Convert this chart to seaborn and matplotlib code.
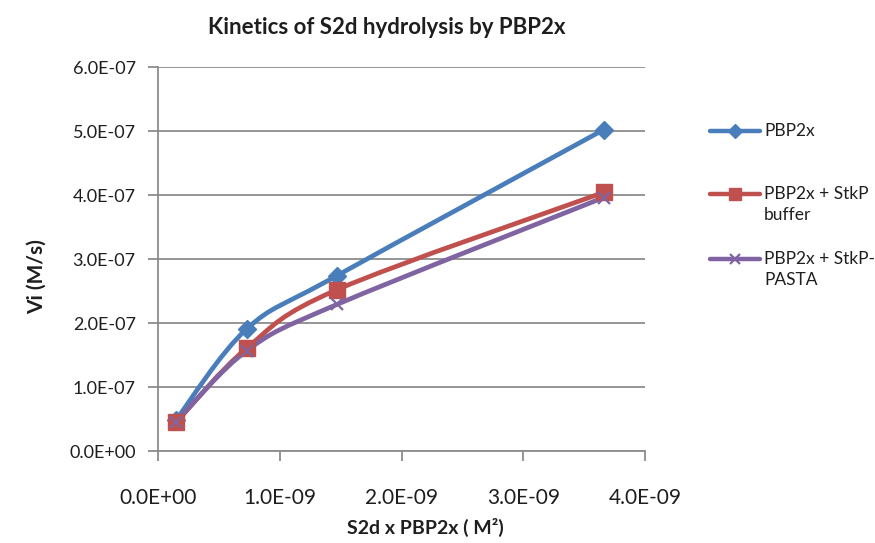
import numpy as np
import pandas as pd
import seaborn as sns
import matplotlib
matplotlib.use("Agg")
import matplotlib.pyplot as plt
from matplotlib.path import Path
from matplotlib.patches import PathPatch
from matplotlib.lines import Line2D
from matplotlib.ticker import FixedLocator, FuncFormatter

# Substrate x enzyme concentration product (M^2)
s2d_x_pbp2x = [0.15e-9, 0.73e-9, 1.47e-9, 3.66e-9]
# Initial velocities (M/s)
vi_pbp2x = [4.9e-8, 1.91e-7, 2.74e-7, 5.02e-7]
vi_stkp_buffer = [4.5e-8, 1.61e-7, 2.52e-7, 4.04e-7]
vi_stkp_pasta = [4.6e-8, 1.57e-7, 2.29e-7, 3.96e-7]

series_names = ["PBP2x", "PBP2x + StkP\nbuffer", "PBP2x + StkP-\nPASTA"]
series_values = [vi_pbp2x, vi_stkp_buffer, vi_stkp_pasta]
colors = ["#4A7EBB", "#C0504D", "#8064A2"]
markers = ["D", "s", "x"]
marker_sizes = [9.5, 12, 9]

x_ticks = [0.0, 1e-9, 2e-9, 3e-9, 4e-9]
y_ticks = [0.0, 1e-7, 2e-7, 3e-7, 4e-7, 5e-7, 6e-7]

sns.set_theme(style="white")
plt.rcParams["font.family"] = ["Lato", "DejaVu Sans"]
TEXT = "#1E1E1E"
AXIS = "#8C8C8C"

rows = []
for name, vals in zip(series_names, series_values):
    for x, y in zip(s2d_x_pbp2x, vals):
        rows.append({"x": x, "vi": y, "series": name})
df = pd.DataFrame(rows)

W, H = 875, 543
fig = plt.figure(figsize=(W / 100, H / 100), dpi=100)
ax = fig.add_axes([158 / W, 1 - 451 / H, (645 - 158) / W, (451 - 67) / H])


def smooth_path(xs, ys):
    """Cubic Bezier path through the points (Catmull-Rom style smoothing)."""
    pts = np.column_stack([xs, ys])
    n = len(pts)
    verts = [pts[0]]
    codes = [Path.MOVETO]
    for i in range(n - 1):
        p0 = pts[i - 1] if i > 0 else pts[i]
        p1 = pts[i]
        p2 = pts[i + 1]
        p3 = pts[i + 2] if i + 2 < n else pts[i + 1]
        c1 = p1 + (p2 - p0) / 6.0
        c2 = p2 - (p3 - p1) / 6.0
        verts += [c1, c2, p2]
        codes += [Path.CURVE4] * 3
    return Path(verts, codes)


for name, col, mk, ms in zip(series_names, colors, markers, marker_sizes):
    sub = df[df["series"] == name]
    patch = PathPatch(smooth_path(sub["x"].values, sub["vi"].values),
                      facecolor="none", edgecolor=col, lw=3.4,
                      capstyle="round", joinstyle="round", zorder=3)
    ax.add_patch(patch)
    mew = 1.6 if mk == "x" else 1.0
    sns.lineplot(data=sub, x="x", y="vi", ax=ax, color=col, marker=mk,
                 markersize=ms, markeredgewidth=mew, markeredgecolor=col,
                 linestyle="none", legend=False, zorder=4)

ax.set_xlim(0, 4e-9)
ax.set_ylim(0, 6e-7)
ax.xaxis.set_major_locator(FixedLocator(x_ticks))
ax.yaxis.set_major_locator(FixedLocator(y_ticks))
ax.xaxis.set_major_formatter(FuncFormatter(lambda v, p: f"{v:.1E}"))
ax.yaxis.set_major_formatter(FuncFormatter(lambda v, p: f"{v:.1E}"))

ax.grid(axis="y", color=AXIS, lw=1.3)
ax.grid(axis="x", visible=False)
for side in ["top", "right"]:
    ax.spines[side].set_visible(False)
for side in ["left", "bottom"]:
    ax.spines[side].set_color(AXIS)
    ax.spines[side].set_linewidth(1.3)

ax.tick_params(axis="x", which="major", direction="out", length=7, width=1.3,
               color=AXIS, labelsize=15, pad=20, bottom=True)
ax.tick_params(axis="y", which="major", direction="out", length=7, width=1.3,
               color=AXIS, labelsize=13, pad=9, left=True)
for lbl in ax.get_xticklabels() + ax.get_yticklabels():
    lbl.set_color(TEXT)

ax.set_xlabel("S2d x PBP2x ( M²)", fontsize=14, fontweight="bold", color=TEXT)
ax.xaxis.set_label_coords((425 - 158) / (645 - 158), -(527 - 451) / (451 - 67))
ax.xaxis.label.set_va("center")
ax.set_ylabel("Vi (M/s)", fontsize=15, fontweight="bold", color=TEXT)
ax.yaxis.set_label_coords(-(158 - 37) / (645 - 158), (451 - 277) / (451 - 67))
ax.yaxis.label.set_va("center")

fig.text(387 / W, 1 - 28 / H, "Kinetics of S2d hydrolysis by PBP2x",
         ha="center", va="center", fontsize=16, fontweight="bold", color=TEXT)

# Legend: handle aligned with the first line of each label
legend_rows = [131, 194, 259]
LEG_FS = 12.5
for name, col, mk, ms, ry in zip(series_names, colors, markers, marker_sizes, legend_rows):
    yf = 1 - ry / H
    mew = 1.6 if mk == "x" else 1.0
    fig.add_artist(Line2D([710 / W, 760 / W], [yf, yf], color=col, lw=3.2,
                          transform=fig.transFigure))
    fig.add_artist(Line2D([735 / W], [yf], color=col, marker=mk,
                          markersize=ms * 0.75, markeredgewidth=mew,
                          markeredgecolor=col, transform=fig.transFigure))
    first, *rest = name.split("\n")
    fig.text(764 / W, yf, first, ha="left", va="center", fontsize=LEG_FS, color=TEXT)
    for k, line in enumerate(rest, start=1):
        fig.text(764 / W, 1 - (ry + 21 * k) / H, line, ha="left", va="center",
                 fontsize=LEG_FS, color=TEXT)

fig.savefig("out.png", dpi=100)
